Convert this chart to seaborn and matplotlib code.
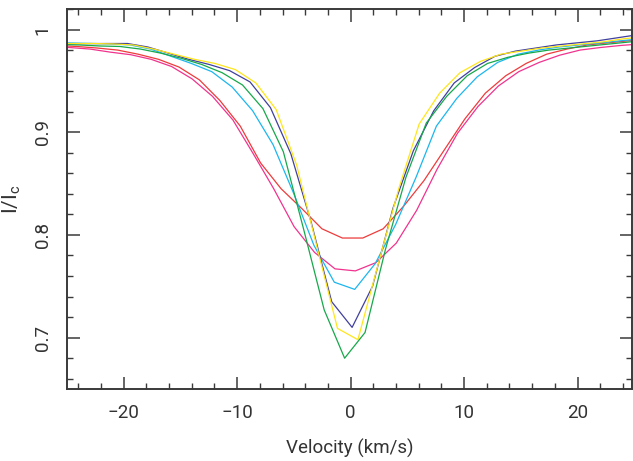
import numpy as np
import pandas as pd
import matplotlib
matplotlib.use("Agg")
import matplotlib.pyplot as plt
import seaborn as sns
from matplotlib.ticker import MultipleLocator

# velocity grids (km/s) and normalised intensity for each profile
v_red = [-25.93, -24.13, -22.33, -20.53, -18.73, -16.93, -15.13, -13.33, -11.53, -9.73,
         -7.93, -6.13, -4.33, -2.53, -0.73, 1.07, 2.87, 4.67, 6.47, 8.27,
         10.07, 11.87, 13.67, 15.47, 17.27, 19.07, 20.87, 22.67, 24.47, 26.27]
i_red = [0.9845, 0.9835, 0.982, 0.980, 0.976, 0.971, 0.9635, 0.951, 0.931, 0.906,
         0.870, 0.845, 0.826, 0.806, 0.797, 0.797, 0.806, 0.828, 0.853, 0.883,
         0.913, 0.938, 0.955, 0.967, 0.976, 0.981, 0.985, 0.987, 0.989, 0.990]

v_pink = [-26.58, -24.78, -22.98, -21.18, -19.38, -17.58, -15.78, -13.98, -12.18, -10.38,
          -8.58, -6.78, -4.98, -3.18, -1.38, 0.42, 2.22, 4.02, 5.82, 7.62,
          9.42, 11.22, 13.02, 14.82, 16.62, 18.42, 20.22, 22.02, 23.82, 25.62]
i_pink = [0.9835, 0.9825, 0.981, 0.978, 0.9755, 0.971, 0.964, 0.952, 0.935, 0.912,
          0.879, 0.845, 0.808, 0.783, 0.767, 0.765, 0.773, 0.792, 0.824, 0.864,
          0.899, 0.925, 0.945, 0.959, 0.968, 0.975, 0.980, 0.9825, 0.9845, 0.986]

v_cyan = [-26.64, -24.84, -23.04, -21.24, -19.44, -17.64, -15.84, -14.04, -12.24, -10.44,
          -8.64, -6.84, -5.04, -3.24, -1.44, 0.36, 2.16, 3.96, 5.76, 7.56,
          9.36, 11.16, 12.96, 14.76, 16.56, 18.36, 20.16, 21.96, 23.76, 25.56]
i_cyan = [0.987, 0.987, 0.9865, 0.986, 0.985, 0.981, 0.974, 0.967, 0.959, 0.944,
          0.921, 0.888, 0.841, 0.790, 0.754, 0.747, 0.772, 0.810, 0.856, 0.906,
          0.933, 0.954, 0.968, 0.976, 0.980, 0.983, 0.985, 0.987, 0.989, 0.991]

v_blue = [-25.07, -23.27, -21.47, -19.67, -17.87, -16.07, -14.27, -12.47, -10.67, -8.87,
          -7.07, -5.27, -3.47, -1.67, 0.13, 1.93, 3.73, 5.53, 7.33, 9.13,
          10.93, 12.73, 14.53, 16.33, 18.13, 19.93, 21.73, 23.53, 25.33]
i_blue = [0.9862, 0.9863, 0.9864, 0.9864, 0.983, 0.977, 0.971, 0.966, 0.960, 0.949,
          0.924, 0.879, 0.812, 0.735, 0.710, 0.750, 0.826, 0.882, 0.921, 0.948,
          0.963, 0.974, 0.979, 0.982, 0.985, 0.987, 0.989, 0.992, 0.995]

v_yellow = [-26.36, -24.56, -22.76, -20.96, -19.16, -17.36, -15.56, -13.76, -11.96, -10.16,
            -8.36, -6.56, -4.76, -2.96, -1.16, 0.64, 2.44, 4.24, 6.04, 7.84,
            9.64, 11.44, 13.24, 15.04, 16.84, 18.64, 20.44, 22.24, 24.04, 25.84]
i_yellow = [0.9864, 0.9864, 0.9864, 0.986, 0.985, 0.981, 0.976, 0.971, 0.967, 0.961,
            0.948, 0.922, 0.868, 0.788, 0.709, 0.698, 0.772, 0.845, 0.908, 0.938,
            0.958, 0.969, 0.976, 0.979, 0.982, 0.984, 0.986, 0.988, 0.991, 0.993]

v_green = [-25.73, -23.93, -22.13, -20.33, -18.53, -16.73, -14.93, -13.13, -11.33, -9.53,
           -7.73, -5.93, -4.13, -2.33, -0.53, 1.27, 3.07, 4.87, 6.67, 8.47,
           10.27, 12.07, 13.87, 15.67, 17.47, 19.27, 21.07, 22.87, 24.67, 26.47]
i_green = [0.9855, 0.985, 0.984, 0.9835, 0.981, 0.977, 0.972, 0.966, 0.958, 0.946,
           0.923, 0.881, 0.805, 0.727, 0.680, 0.705, 0.786, 0.856, 0.909, 0.935,
           0.955, 0.967, 0.973, 0.977, 0.980, 0.982, 0.984, 0.986, 0.988, 0.990]

names = ["red", "pink", "cyan", "blue", "yellow", "green"]
colores = ["#ee3b3b", "#f0338e", "#1cb6ee", "#40409e", "#ffe61c", "#16a84a"]

perfiles = [(v_red, i_red), (v_pink, i_pink), (v_cyan, i_cyan),
            (v_blue, i_blue), (v_yellow, i_yellow), (v_green, i_green)]
frames = []
for n, (v, i) in zip(names, perfiles):
    frames.append(pd.DataFrame({"vel": v, "flux": i, "perfil": n}))
df = pd.concat(frames, ignore_index=True)

sns.set_style("ticks")
plt.rcParams["font.family"] = ["Roboto", "DejaVu Sans"]
plt.rcParams["mathtext.fontset"] = "custom"
plt.rcParams["mathtext.rm"] = "Roboto"

fig = plt.figure(figsize=(6.33, 4.61), dpi=100)
ax = fig.add_axes([67 / 633, 1 - 389 / 461, 565 / 633, 380 / 461])

sns.lineplot(data=df, x="vel", y="flux", hue="perfil", palette=colores,
             sort=False, estimator=None, linewidth=0.9, legend=False, ax=ax)

ax.set_xlim(-25, 24.8)
ax.set_ylim(0.65, 1.02)
ax.xaxis.set_minor_locator(MultipleLocator(2))
ax.yaxis.set_minor_locator(MultipleLocator(0.02))
ax.set_yticks([0.7, 0.8, 0.9, 1.0])
ax.set_yticklabels(["0.7", "0.8", "0.9", "1"], rotation=90, va="center")
ax.set_xticks([-20, -10, 0, 10, 20])
ax.set_xticklabels(["\u221220", "\u221210", "0", "10", "20"])

for s in ax.spines.values():
    s.set_visible(True)
    s.set_color("#3a3a3a")
    s.set_linewidth(1.4)
ax.tick_params(which="both", direction="in", top=True, right=True,
               colors="#3a3a3a", labelcolor="#333333", labelsize=13.5)
ax.tick_params(which="major", length=9, width=1.1, pad=11)
ax.tick_params(which="minor", length=4.5, width=1.0)

ax.set_xlabel("Velocity (km/s)", fontsize=13.5, color="#333333", labelpad=12)
ax.set_ylabel(r"I/I$_\mathrm{c}$", fontsize=15, color="#333333", labelpad=8)

fig.savefig("out.png", dpi=100)
